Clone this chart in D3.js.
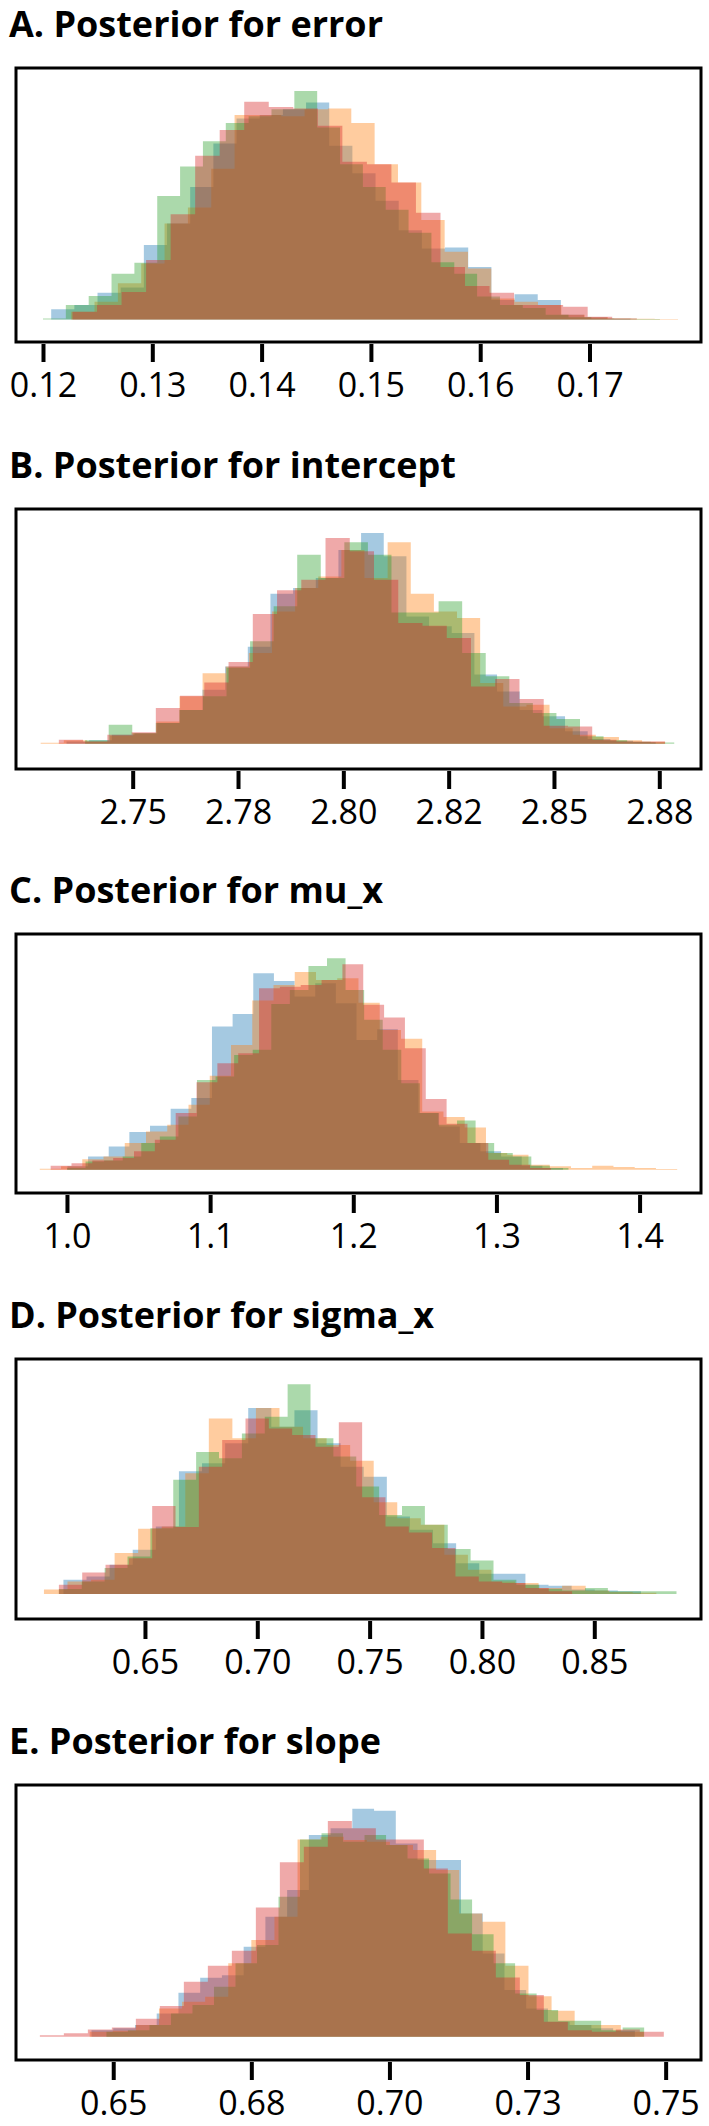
<!DOCTYPE html>
<html lang="en">
<head>
    <meta charset="UTF-8">
    <title>Posterior histograms per chain</title>
    <script src="https://d3js.org/d3.v7.min.js"></script>
    <style>
        body { margin: 0; background: #fff; }
        .title { font-family: "Open Sans", sans-serif; font-weight: 700; font-size: 36px; fill: #000; }
        .tick text { font-family: "Open Sans", sans-serif; font-size: 34px; fill: #000; }
        .tick line { stroke: #000; stroke-width: 4; }
        .frame { fill: none; stroke: #000; stroke-width: 3; }
    </style>
</head>
<body>
    <div id="chart"></div>
    <script>
        const width = 709, height = 2126;

        // chain colours (tab10), drawn in this order
        const chainColors = ["#1f77b4", "#ff7f0e", "#2ca02c", "#d62728"];

        const titles = [
            "A. Posterior for error",
            "B. Posterior for intercept",
            "C. Posterior for mu_x",
            "D. Posterior for sigma_x",
            "E. Posterior for slope"
        ];

        // axis limits and ticks
        const xLimits = [[0.11753, 0.1802], [2.7223, 2.8849], [0.9644, 1.4429], [0.5926, 0.8975], [0.6324, 0.7564]];
        const yLimits = [[-9.9, 110.1], [-12, 111.4], [-11, 111.5], [-11.9, 112], [-10.2, 110.4]];
        const tickValues = [
            [0.12, 0.13, 0.14, 0.15, 0.16, 0.17],
            [2.75, 2.775, 2.8, 2.825, 2.85, 2.875],
            [1.0, 1.1, 1.2, 1.3, 1.4],
            [0.65, 0.70, 0.75, 0.80, 0.85],
            [0.65, 0.675, 0.70, 0.725, 0.75]
        ];
        const tickLabels = [
            ["0.12", "0.13", "0.14", "0.15", "0.16", "0.17"],
            ["2.75", "2.78", "2.80", "2.82", "2.85", "2.88"],
            ["1.0", "1.1", "1.2", "1.3", "1.4"],
            ["0.65", "0.70", "0.75", "0.80", "0.85"],
            ["0.65", "0.68", "0.70", "0.73", "0.75"]
        ];

        // bin ranges per chain [lo, hi] (blue, orange, green, red)
        const errorRanges = [[0.12075, 0.17374], [0.12258, 0.1781], [0.1200, 0.17644], [0.1227, 0.17432]];
        const interceptRanges = [[2.73429, 2.87414], [2.72816, 2.8764], [2.73871, 2.87855], [2.73247, 2.87634]];
        const muRanges = [[1.00032, 1.34652], [0.98101, 1.42627], [1.0, 1.35032], [0.98861, 1.33798]];
        const sigmaRanges = [[0.61371, 0.87076], [0.60504, 0.87762], [0.61169, 0.88659], [0.61169, 0.84012]];
        const slopeRanges = [[0.64607, 0.74443], [0.64574, 0.74607], [0.64877, 0.74611], [0.63672, 0.74967]];

        // bin heights per chain (relative density, panel peak = 100)
        const errorBlue = [4.4, 6.3, 11.7, 14, 32.6, 42, 58, 77, 88, 89.5, 92, 95, 76, 64, 52, 39, 31, 31.5, 23, 8.5, 11, 8.5, 2, 0.9, 0.3];
        const errorOrange = [3.4, 7.7, 15.8, 24.5, 42, 49, 66, 89.5, 89.5, 89, 92, 92.4, 86, 68, 60, 43.5, 29.6, 22.3, 9.2, 7.7, 6.3, 2, 0.9, 0.4, 0.3, 0.15];
        const errorGreen = [0.4, 6.3, 10.2, 20, 24.8, 54, 67, 78, 86, 89, 92, 100, 84, 68, 58, 48, 38, 25, 20, 10, 6.3, 5, 2, 0.9, 0.4, 0.3, 0.15];
        const errorRed = [3.4, 6.3, 12, 26, 46, 71.7, 83, 95.3, 93, 92.4, 84.8, 69, 68, 60, 46.7, 23, 14.6, 11.7, 6.3, 6.3, 5.5, 1.2, 0.4];

        const interceptBlue = [1.1, 1.6, 4.3, 5, 9.8, 16, 25.6, 36.7, 46, 71.2, 73.9, 78.6, 92, 100, 89, 60.4, 55.7, 52.5, 32.8, 24.8, 16, 13, 5.9, 2.2, 1.4, 0.8];
        const interceptOrange = [0.5, 1.6, 1.1, 3.8, 5, 10.6, 22.5, 33.5, 36.7, 43, 62.8, 73.9, 79.4, 92, 78.6, 95.6, 71.2, 62.8, 59.7, 28.8, 17.7, 18.5, 7.4, 4.3, 3.2, 1.6, 0.9];
        const interceptGreen = [1.6, 9, 5, 9.8, 16, 22.5, 36, 48.6, 65.2, 89.7, 78.6, 95.6, 89.7, 62.3, 62.3, 67.6, 43, 32, 19.3, 14.6, 11.7, 3.5, 1.6, 0.9, 0.6];
        const interceptRed = [1.9, 1.1, 4.3, 5.4, 16.9, 22.8, 29.1, 38.8, 61.6, 72.8, 77.8, 97.6, 91.3, 77.8, 57.3, 56, 50.2, 27.2, 30.7, 21.2, 8.5, 8.2, 1.9, 1.1, 1.1];

        const muBlue = [1.6, 6.3, 11, 17.8, 20.8, 28.8, 33.9, 67.7, 73.7, 92.9, 89.3, 81.9, 88.2, 78.7, 61.4, 66.5, 42.5, 26.8, 20.5, 12.6, 8.7, 6.3, 1.9, 0.8];
        const muOrange = [0.5, 1.6, 5, 6.3, 12.6, 18.1, 21.3, 30.7, 44.4, 59, 80, 87.4, 93.5, 89.8, 90.6, 79, 66.1, 62, 27.6, 24.9, 20, 7.9, 7.1, 2.4, 1.6, 0.8, 1.9, 1.3, 0.8, 0.3];
        const muGreen = [0.8, 3.9, 4.4, 6.3, 12.6, 15.7, 25.2, 42.5, 44.1, 54.3, 56.7, 78.4, 85, 96.4, 100, 85, 70.9, 56.7, 40.9, 26.8, 21.3, 23.3, 12.6, 7.9, 6.3, 1.9, 0.8];
        const muRed = [1.9, 3.1, 4.4, 5.5, 8.7, 14.2, 26.8, 41.4, 50.4, 55.1, 85.8, 86.6, 87.4, 89.8, 97.2, 78, 72, 57.5, 33.5, 21.7, 12.6, 4.7, 2.4, 0.8];

        const sigmaBlue = [6.8, 8.4, 13.9, 21.1, 32.2, 58.5, 62.3, 71.8, 88.7, 79.7, 87.6, 71.8, 60.7, 55.9, 36.9, 30.6, 24.2, 14.7, 9.7, 9.7, 4.4, 4, 2.1, 1.7, 1.3];
        const sigmaOrange = [2.1, 6, 6.8, 19.5, 31.1, 32.2, 57.5, 83.7, 74.2, 88.7, 79.7, 74.2, 71, 63.5, 43.7, 36.1, 33, 18.7, 11.6, 6, 5.2, 2.9, 4, 1.7, 1, 0.6];
        const sigmaGreen = [2.4, 6, 12.4, 17.9, 31.4, 54.4, 67.7, 64.7, 76.5, 84.5, 100, 74.2, 65.5, 51.2, 37.7, 42, 33, 21.4, 16, 6.8, 4.4, 2.4, 1.7, 2.9, 1.3, 1.3, 1.3];
        const sigmaRed = [4.4, 10.3, 13.9, 17.1, 42, 31.9, 60.7, 73.4, 83.7, 78.9, 75.8, 70.2, 81.9, 46.1, 32.2, 29.3, 21.9, 8.4, 6, 5.2, 2.9, 1.3];

        const slopeBlue = [2.9, 3.7, 5.1, 10.2, 19.3, 25.9, 27, 39.5, 52.6, 64.3, 88.5, 91.4, 100, 99.1, 84.8, 77.5, 77.5, 54.1, 36.5, 20.5, 12.4, 6.6, 5.1, 3.7, 2.6];
        const slopeOrange = [2.2, 2.6, 5.1, 12.4, 15.4, 17.5, 32.2, 42.4, 52.6, 86.5, 87.7, 86.3, 85.5, 84.1, 81.9, 73.1, 54.1, 50.4, 31.1, 17.8, 11.4, 5.1, 5.1, 2.2];
        const slopeGreen = [2.2, 2.9, 5.1, 10.2, 13.9, 21.9, 32.2, 40.2, 61.4, 86.5, 89.2, 85.5, 88.5, 84.1, 78.2, 71.6, 60.2, 44.9, 32.2, 19, 11.7, 7, 7, 2.9, 4.1];
        const slopeRed = [0.7, 1.5, 3.2, 4.1, 7.9, 13.5, 24.1, 31.1, 37.7, 56.7, 76.5, 83.3, 94.6, 91.4, 86.5, 86.5, 73.8, 45.3, 37.7, 26, 18.3, 6.6, 2.9, 2.2, 3.2, 2.2];

        const panelRanges = [errorRanges, interceptRanges, muRanges, sigmaRanges, slopeRanges];
        const panelHeights = [
            [errorBlue, errorOrange, errorGreen, errorRed],
            [interceptBlue, interceptOrange, interceptGreen, interceptRed],
            [muBlue, muOrange, muGreen, muRed],
            [sigmaBlue, sigmaOrange, sigmaGreen, sigmaRed],
            [slopeBlue, slopeOrange, slopeGreen, slopeRed]
        ];

        // layout
        const boxLeft = 16, boxRight = 701;
        const boxTops = [68, 509, 934, 1359, 1785];
        const boxBottoms = [342, 769, 1193, 1619, 2060];

        const svg = d3.select("#chart")
            .append("svg")
            .attr("width", width)
            .attr("height", height);

        titles.forEach((title, i) => {
            const top = boxTops[i], bottom = boxBottoms[i];
            const x = d3.scaleLinear().domain(xLimits[i]).range([boxLeft, boxRight]);
            const y = d3.scaleLinear().domain(yLimits[i]).range([bottom, top]);
            const g = svg.append("g");

            // one step-filled histogram per chain
            panelHeights[i].forEach((h, c) => {
                const [lo, hi] = panelRanges[i][c];
                const w = (hi - lo) / h.length;
                const pts = h.map((v, k) => ({ x: lo + k * w, v }));
                pts.push({ x: hi, v: h[h.length - 1] });
                g.append("path")
                    .datum(pts)
                    .attr("fill", chainColors[c])
                    .attr("fill-opacity", 0.4)
                    .attr("d", d3.area()
                        .x(d => x(d.x))
                        .y0(y(0))
                        .y1(d => y(d.v))
                        .curve(d3.curveStepAfter));
            });

            g.append("rect")
                .attr("class", "frame")
                .attr("x", boxLeft)
                .attr("y", top)
                .attr("width", boxRight - boxLeft)
                .attr("height", bottom - top);

            const axis = g.append("g")
                .attr("transform", `translate(0,${bottom})`)
                .call(d3.axisBottom(x)
                    .tickValues(tickValues[i])
                    .tickFormat((d, j) => tickLabels[i][j])
                    .tickSize(20));
            axis.select(".domain").remove();
            axis.selectAll(".tick line").attr("y1", 2);
            axis.selectAll(".tick text").attr("y", 55).attr("dy", null);

            g.append("text")
                .attr("class", "title")
                .attr("x", 9)
                .attr("y", top - 31)
                .text(title);
        });
    </script>
</body>
</html>
